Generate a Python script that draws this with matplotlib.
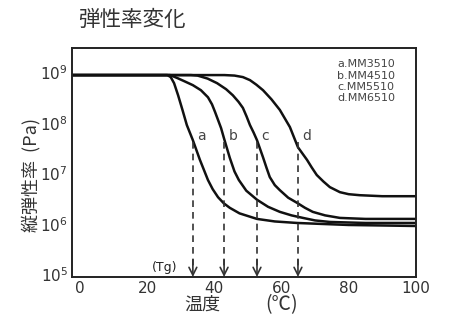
import matplotlib
matplotlib.use("Agg")
import matplotlib.pyplot as plt
import numpy as np

plt.rcParams['font.family'] = ['Noto Sans CJK JP', 'DejaVu Sans']

# curves: temperature (C) and log10 of modulus (Pa)
a_x = [-2, 26.0, 27.0, 28.0, 29.2, 30.5, 31.8, 33.6, 35.7, 38.1, 39.5, 41.1,
       42.8, 44.6, 47.5, 52.7, 58.0, 64.6, 80.0, 100]
a_logE = [8.96, 8.96, 8.92, 8.80, 8.56, 8.27, 7.97, 7.67, 7.28, 6.88, 6.70, 6.54,
          6.42, 6.33, 6.22, 6.11, 6.06, 6.03, 5.99, 5.97]
b_x = [-2, 26.8, 29.0, 31.0, 33.6, 36.0, 38.1, 39.3, 40.2, 41.1, 42.0, 42.9,
       44.6, 46.0, 47.3, 49.5, 52.7, 56.0, 59.5, 63.0, 66.4, 70.0, 74.4, 85.0, 100]
b_logE = [8.96, 8.96, 8.90, 8.84, 8.76, 8.66, 8.52, 8.38, 8.23, 8.07, 7.91, 7.70,
          7.32, 7.05, 6.88, 6.67, 6.49, 6.35, 6.25, 6.18, 6.13, 6.08, 6.05, 6.03, 6.03]
c_x = [-2, 33.0, 35.0, 38.0, 40.8, 43.5, 45.5, 47.2, 48.5, 49.6, 50.6, 51.7,
       52.7, 54.5, 55.5, 56.5, 58.0, 59.5, 62.0, 64.6, 67.0, 69.3, 73.0, 77.4,
       85.0, 100]
c_logE = [8.96, 8.96, 8.95, 8.89, 8.80, 8.68, 8.56, 8.43, 8.31, 8.14, 7.97, 7.82,
          7.67, 7.33, 7.13, 6.94, 6.78, 6.68, 6.53, 6.43, 6.33, 6.25, 6.18, 6.13,
          6.11, 6.11]
d_x = [-2, 43.0, 46.0, 48.5, 50.6, 52.5, 54.5, 57.0, 59.5, 61.0, 62.5, 64.9,
       66.3, 67.6, 69.0, 70.5, 72.5, 74.4, 77.4, 80.0, 83.3, 90.0, 100]
d_logE = [8.96, 8.96, 8.95, 8.92, 8.86, 8.77, 8.66, 8.48, 8.27, 8.10, 7.93, 7.53,
          7.40, 7.28, 7.13, 6.98, 6.85, 6.74, 6.64, 6.60, 6.58, 6.56, 6.56]

curve_names = ['a', 'b', 'c', 'd']
legend_labels = ['a.MM3510', 'b.MM4510', 'c.MM5510', 'd.MM6510']
tg = [33.6, 42.9, 52.7, 64.9]
tg_logE = 7.63

x_ticks = [0, 20, 40, 60, 80, 100]
y_exps = [5, 6, 7, 8, 9]

fig = plt.figure(figsize=(4.5, 3.27), dpi=100)
ax = fig.add_axes([0.16, 0.153, 0.764, 0.70])

ink = '#111111'
for xs, ls in [(a_x, a_logE), (b_x, b_logE), (c_x, c_logE), (d_x, d_logE)]:
    ax.plot(xs, 10 ** np.array(ls), color=ink, lw=1.8, solid_joinstyle='round')

y_bot = 10 ** 4.96
for name, t in zip(curve_names, tg):
    ax.plot([t, t], [10 ** tg_logE, y_bot * 1.6], color='#333333', lw=1.2,
            dashes=(4, 3))
    ax.annotate('', xy=(t, y_bot), xytext=(t, y_bot * 2.2),
                arrowprops=dict(arrowstyle='->', color='#333333', lw=1.2,
                                mutation_scale=14, shrinkA=0, shrinkB=0))
    ax.text(t + 1.3, 10 ** 7.75, name, fontsize=10, color='#444444',
            ha='left', va='center', family=['DejaVu Sans'])

ax.text(25.3, 10 ** 5.14, '(Tg)', fontsize=9, color='#222222',
        ha='center', va='center', family=['DejaVu Sans'])

for i, lab in enumerate(legend_labels):
    ax.text(76.5, 10 ** (9.17 - 0.22 * i), lab, fontsize=8, color='#444444',
            ha='left', va='center', family=['DejaVu Sans'])

ax.set_yscale('log')
ax.set_xlim(-2.4, 100)
ax.set_ylim(10 ** 4.96, 10 ** 9.495)
ax.set_xticks(x_ticks)
ax.set_xticklabels([str(v) for v in x_ticks], family=['DejaVu Sans'])
ax.set_yticks([10 ** e for e in y_exps])
ax.set_yticklabels([f'$10^{e}$' for e in y_exps])
ax.minorticks_off()
ax.tick_params(length=0, labelsize=11, labelcolor='#333333', pad=3)
for s in ax.spines.values():
    s.set_linewidth(1.4)
    s.set_color('#222222')

fig.text(0.173, 0.94, '弾性率変化', fontsize=15.5, color='#333333',
         ha='left', va='center')
fig.text(0.068, 0.465, '縦弾性率  (Pa)', fontsize=13, color='#333333',
         rotation=90, ha='center', va='center')
fig.text(0.45, 0.067, '温度', fontsize=13, color='#333333',
         ha='center', va='center')
fig.text(0.625, 0.067, '(℃)', fontsize=14, color='#333333',
         ha='center', va='center')

fig.savefig('out.png', dpi=100)
